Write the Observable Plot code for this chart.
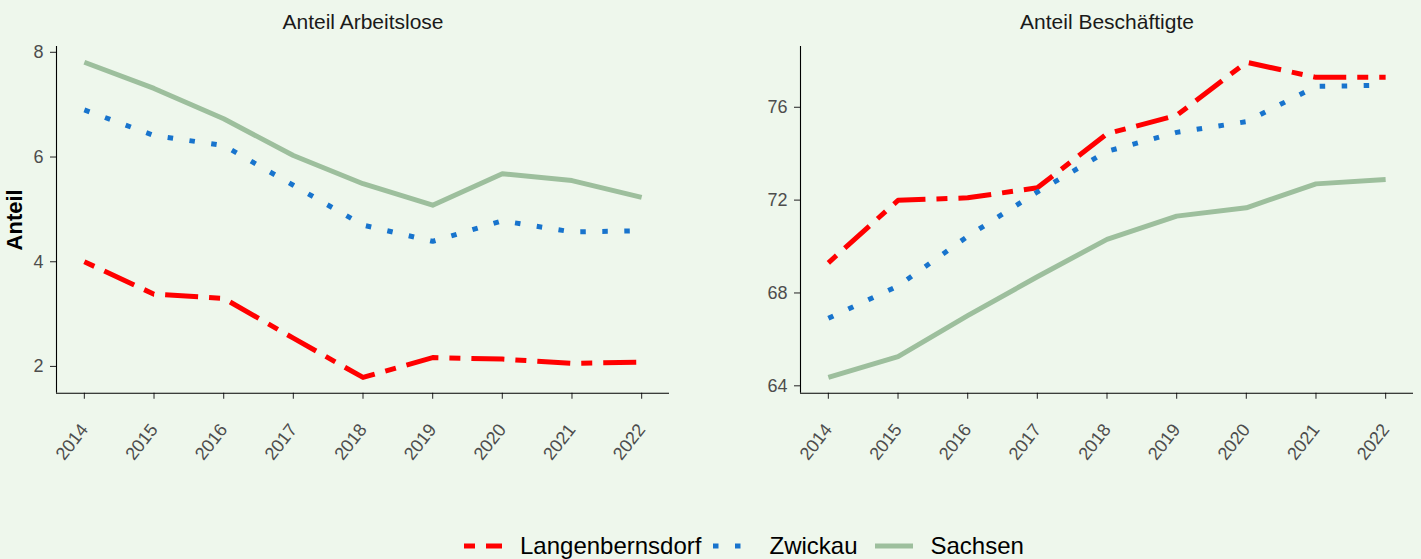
<!DOCTYPE html>
<html>
<head>
<meta charset="utf-8">
<script src="https://cdn.jsdelivr.net/npm/d3@7"></script>
<script src="https://cdn.jsdelivr.net/npm/@observablehq/plot@0.6"></script>
<style>
  html, body { margin: 0; padding: 0; background: #EEF7EC; }
  #wrap { position: relative; width: 1421px; height: 559px; background: #EEF7EC; overflow: hidden;
          font-family: "Liberation Sans", Arial, sans-serif; }
  #left { position: absolute; left: 0; top: 0; }
  #right { position: absolute; left: 700px; top: 0; }
  #legend { position: absolute; left: 464px; top: 531px; height: 30px; display: flex; align-items: center;
            font-size: 24px; color: #000; white-space: nowrap; }
  #legend .key { width: 38px; height: 10px; display: block; }
  #legend .lab { margin-left: 18px; }
</style>
</head>
<body>
<div id="wrap">
  <div id="left"></div>
  <div id="right"></div>
  <div id="legend"></div>
</div>
<script>
// ---- data ----
const years = [2014, 2015, 2016, 2017, 2018, 2019, 2020, 2021, 2022];
const seriesNames = ["Langenbernsdorf", "Zwickau", "Sachsen"];
const panelTitles = ["Anteil Arbeitslose", "Anteil Beschäftigte"];
const yLabel = "Anteil";

const arbeitsloseLangenbernsdorf = [4.00, 3.38, 3.30, 2.54, 1.79, 2.17, 2.14, 2.06, 2.08];
const arbeitsloseZwickau         = [6.90, 6.41, 6.22, 5.46, 4.70, 4.39, 4.78, 4.57, 4.59];
const arbeitsloseSachsen         = [7.81, 7.31, 6.73, 6.03, 5.49, 5.08, 5.68, 5.55, 5.23];

const beschLangenbernsdorf = [69.30, 71.99, 72.10, 72.53, 74.86, 75.65, 77.94, 77.29, 77.29];
const beschZwickau         = [66.91, 68.30, 70.44, 72.35, 74.10, 74.92, 75.38, 76.90, 76.95];
const beschSachsen         = [64.36, 65.26, 67.02, 68.70, 70.31, 71.31, 71.67, 72.70, 72.89];

const yTicksLeft = [2, 4, 6, 8];
const yTicksRight = [64, 68, 72, 76];

// ---- styles ----
const styles = {
  Langenbernsdorf: { stroke: "#FF0000", dash: "11,11,33,11", gapAfter: 12 },
  Zwickau:         { stroke: "#1874CD", dash: "5.5,16.5", gapAfter: 17 },
  Sachsen:         { stroke: "#9DBF9D", dash: null, gapAfter: 0 }
};

function rows(vals) { return years.map((y, i) => ({ year: y, value: vals[i] })); }

function expand(arrs) {
  const all = arrs.flat();
  const lo = d3.min(all), hi = d3.max(all);
  const pad = (hi - lo) * 0.05;
  return [lo - pad, hi + pad];
}

function panel({ title, data, yTicks, width, marginLeft, marginRight, showYLabel }) {
  const yDom = expand(data.map(d => d.vals));
  const xDom = [2014 - 0.4, 2022 + 0.4];
  const marks = [];
  for (const d of data) {
    const s = styles[d.name];
    const opts = { x: "year", y: "value", stroke: s.stroke, strokeWidth: 5,
                   strokeLinecap: "butt", strokeLinejoin: "round", curve: "linear" };
    if (s.dash) opts.strokeDasharray = s.dash;
    marks.push(Plot.line(rows(d.vals), opts));
  }
  marks.push(Plot.axisY(yTicks, { tickSize: 6, tickPadding: 7, fontSize: 18, fill: "#4D4D4D",
                                  stroke: "#333333", strokeWidth: 1.1, label: null,
                                  tickFormat: d => String(d) }));
  marks.push(Plot.axisX(years, { tickSize: 6, tickPadding: 27, tickRotate: -52, fontSize: 18,
                                  fill: "#4D4D4D", stroke: "#333333", strokeWidth: 1.1,
                                  tickFormat: d => String(d), label: null }));
  marks.push(Plot.ruleX([xDom[0]], { stroke: "#000", strokeWidth: 1.1 }));
  marks.push(Plot.ruleY([yDom[0]], { stroke: "#000", strokeWidth: 1.1 }));
  marks.push(Plot.text([title], { frameAnchor: "top", dy: -24, fontSize: 21, fill: "#1A1A1A",
                                  lineAnchor: "middle", textAnchor: "middle" }));
  if (showYLabel) {
    marks.push(Plot.text([yLabel], { frameAnchor: "left", dx: -42, rotate: -90, fontSize: 22,
                                     fontWeight: "bold", fill: "#000", lineAnchor: "middle",
                                     textAnchor: "middle" }));
  }
  return Plot.plot({
    width, height: 470,
    marginLeft, marginRight, marginTop: 46, marginBottom: 470 - 392.7,
    style: { background: "transparent", fontFamily: '"Liberation Sans", Arial, sans-serif', overflow: "visible" },
    x: { domain: xDom, axis: null },
    y: { domain: yDom, axis: null },
    marks
  });
}

document.getElementById("left").appendChild(panel({
  title: panelTitles[0],
  data: [
    { name: "Langenbernsdorf", vals: arbeitsloseLangenbernsdorf },
    { name: "Zwickau", vals: arbeitsloseZwickau },
    { name: "Sachsen", vals: arbeitsloseSachsen }
  ],
  yTicks: yTicksLeft, width: 700, marginLeft: 56, marginRight: 31, showYLabel: true
}));

document.getElementById("right").appendChild(panel({
  title: panelTitles[1],
  data: [
    { name: "Langenbernsdorf", vals: beschLangenbernsdorf },
    { name: "Zwickau", vals: beschZwickau },
    { name: "Sachsen", vals: beschSachsen }
  ],
  yTicks: yTicksRight, width: 721, marginLeft: 100, marginRight: 8, showYLabel: false
}));

// legend
const legend = document.getElementById("legend");
for (const name of seriesNames) {
  const s = styles[name];
  const svg = d3.create("svg").attr("class", "key").attr("width", 38).attr("height", 10);
  const ln = svg.append("line").attr("x1", 0).attr("x2", 38).attr("y1", 5).attr("y2", 5)
    .attr("stroke", s.stroke).attr("stroke-width", 5).attr("stroke-linecap", "butt");
  if (s.dash) ln.attr("stroke-dasharray", s.dash);
  legend.appendChild(svg.node());
  const lab = document.createElement("span");
  lab.className = "lab";
  lab.style.marginRight = s.gapAfter + "px";
  lab.textContent = name;
  legend.appendChild(lab);
}
</script>
</body>
</html>
